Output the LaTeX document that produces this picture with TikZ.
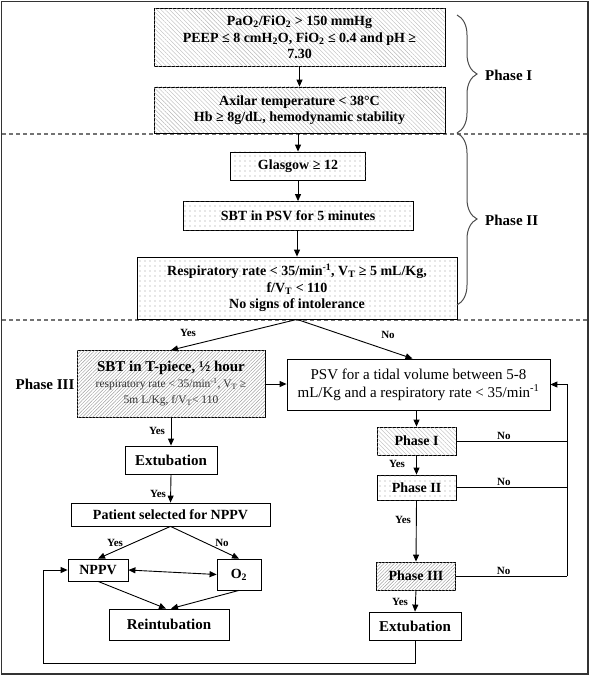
\documentclass[tikz,border=0pt]{standalone}
\usepackage{fontspec}
\setmainfont{Liberation Serif}
\usetikzlibrary{arrows.meta,patterns.meta,decorations.pathreplacing,calc}
\tikzset{
  box/.style={draw, line width=0.8pt, inner sep=2pt, align=center, fill=white,
    font=\bfseries\fontsize{14}{16.5}\selectfont},
  hatchA/.style={postaction={pattern={Lines[angle=-45,distance=3pt,line width=0.4pt]}, pattern color=black!28}},
  dotsB/.style={postaction={pattern={Dots[distance=5pt,radius=0.6pt]}, pattern color=black!40}},
  hatchC/.style={postaction={pattern={Lines[angle=45,distance=2.4pt,line width=0.45pt]}, pattern color=black!38}},
  arr/.style={-{Triangle[length=7pt,width=6pt]}, line width=0.9pt},
  dline/.style={line width=0.9pt},
  lab/.style={font=\bfseries\fontsize{11}{12}\selectfont, inner sep=1pt},
  phlab/.style={font=\bfseries\fontsize{15}{17}\selectfont, inner sep=0pt},
  sep/.style={black!55, line width=1.4pt, dash pattern=on 4pt off 3pt},
  brc/.style={black!70, line width=1pt, decorate, decoration={brace, amplitude=20pt}}
}
\begin{document}
\begin{tikzpicture}[x=1pt,y=-1pt]
\useasboundingbox (0,0) rectangle (590,676);
\draw[line width=1.6pt, black!80] (1.5,1.5) rectangle (588,674);
% separators
\draw[sep] (2,134) -- (588,134);
\draw[sep] (2,320) -- (588,320);
% Phase I and II boxes
\node[box, hatchA, minimum width=291pt, minimum height=58pt] (b1) at (299.5,37.5)
  {PaO\textsubscript{2}/FiO\textsubscript{2} > 150 mmHg\\PEEP ≤ 8 cmH\textsubscript{2}O, FiO\textsubscript{2} ≤ 0.4 and pH ≥\\7.30};
\node[box, hatchA, minimum width=291pt, minimum height=46pt] (b2) at (299.5,110)
  {Axilar temperature < 38°C\\Hb ≥ 8g/dL, hemodynamic stability};
\node[box, dotsB, minimum width=135pt, minimum height=28pt] (glas) at (298,166) {Glasgow ≥ 12};
\node[box, dotsB, minimum width=230pt, minimum height=29pt] (sbt) at (298,216) {SBT in PSV for 5 minutes};
\node[box, dotsB, minimum width=320pt, minimum height=62pt] (resp) at (297,288)
  {Respiratory rate < 35/min\textsuperscript{-1}, V\textsubscript{T} ≥ 5 mL/Kg,\\f/V\textsubscript{T} < 110\\No signs of intolerance};
% Phase III left branch
\node[box, hatchC, minimum width=188pt, minimum height=67pt] (tp) at (171,384)
  {{\fontsize{15}{17}\selectfont SBT in T-piece, ½ hour}\\[-1pt]
   {\normalfont\color{black!80}\fontsize{11.5}{13}\selectfont respiratory rate < 35/min\textsuperscript{-1}, V\textsubscript{T} ≥}\\
   {\normalfont\color{black!80}\fontsize{11.5}{13}\selectfont 5m L/Kg, f/V\textsubscript{T}< 110}};
\node[box, minimum width=263pt, minimum height=51pt, font=\fontsize{15}{18}\selectfont] (psv) at (418.5,384.5)
  {PSV for a tidal volume between 5-8\\mL/Kg and a respiratory rate < 35/min\textsuperscript{-1}};
\node[box, minimum width=92pt, minimum height=28pt, font=\bfseries\fontsize{15}{17}\selectfont] (extL) at (171,460) {Extubation};
\node[box, minimum width=199pt, minimum height=23pt] (pat) at (170.5,514.5) {Patient selected for NPPV};
\node[box, minimum width=60pt, minimum height=22pt] (nppv) at (98,570) {NPPV};
\node[box, minimum width=44pt, minimum height=31pt] (o2) at (239,574.5) {O\textsubscript{2}};
\node[box, minimum width=120pt, minimum height=31pt, font=\bfseries\fontsize{15}{17}\selectfont] (reint) at (169,624.5) {Reintubation};
% right branch
\node[box, hatchA, minimum width=79pt, minimum height=28pt] (ph1) at (416.5,441) {Phase I};
\node[box, dotsB, minimum width=79pt, minimum height=25pt] (ph2) at (416.5,487.5) {Phase II};
\node[box, hatchC, minimum width=79pt, minimum height=28pt] (ph3) at (416,576) {Phase III};
\node[box, minimum width=92pt, minimum height=28pt, font=\bfseries\fontsize{15}{17}\selectfont] (extR) at (415,626) {Extubation};
% phase labels
\node[phlab, anchor=west] (lp1) at (485,75) {Phase I};
\node[phlab, anchor=west] (lp2) at (485,220) {Phase II};
\node[phlab] (lp3) at (45,384) {Phase III};
\draw[brc] (457,15) -- (457,133);
\draw[brc] (457,133) -- (457,305);
% coordinates
\coordinate (lx) at (567,0);
\coordinate (fb) at (43,663);
% connectors top
\draw[arr] (b1.south) -- (b2.north);
\draw[arr] (b2.south -| glas.north) -- (glas.north);
\draw[arr] (glas.south) -- (sbt.north);
\draw[arr] (sbt.south -| resp.north) -- (resp.north);
\draw[arr] (resp.south) -- (tp.north);
\draw[arr] (resp.south) -- ($(psv.north)+(-6,0)$);
\node[lab] at (188,333) {Yes};
\node[lab] at (388,335) {No};
\draw[arr] (tp.east) -- (tp.east -| psv.west);
\draw[arr] (tp.south) -- (extL.north);
\node[lab] at (157,431) {Yes};
\draw[arr] (extL.south) -- (pat.north);
\node[lab] at (158,494) {Yes};
\draw[arr] (pat.south) -- (nppv.north);
\draw[arr] (pat.south) -- (o2.north);
\node[lab] at (115,543) {Yes};
\node[lab] at (222,543) {No};
\draw[{Triangle[length=7pt,width=6pt]}-{Triangle[length=7pt,width=6pt]}, line width=0.9pt] (nppv.east) -- (o2.west);
\draw[arr] (nppv.south) -- ($(reint.north)+(-3,0)$);
\draw[arr] (o2.south) -- ($(reint.north)+(2,0)$);
% right branch connectors
\draw[arr] (psv.south -| ph1.north) -- (ph1.north);
\draw[arr] (ph1.south) -- (ph2.north);
\node[lab] at (397,464) {Yes};
\draw[arr] (ph2.south) -- (ph3.north);
\node[lab] at (403,520) {Yes};
\draw[arr] (ph3.south) -- (extR.north);
\node[lab] at (400,602) {Yes};
\draw[dline] (ph1.east) -- node[lab, above, pos=0.43] {No} (ph1.east -| lx);
\draw[dline] (ph2.east) -- node[lab, above, pos=0.43] {No} (ph2.east -| lx);
\draw[dline] (ph3.east) -- node[lab, above, pos=0.43] {No} (ph3.east -| lx);
\draw[arr] (ph3.east -| lx) -- (lx |- psv.east) -- (psv.east);
% feedback
\draw[arr] (extR.south) |- (fb) |- (nppv.west);
\end{tikzpicture}
\end{document}
